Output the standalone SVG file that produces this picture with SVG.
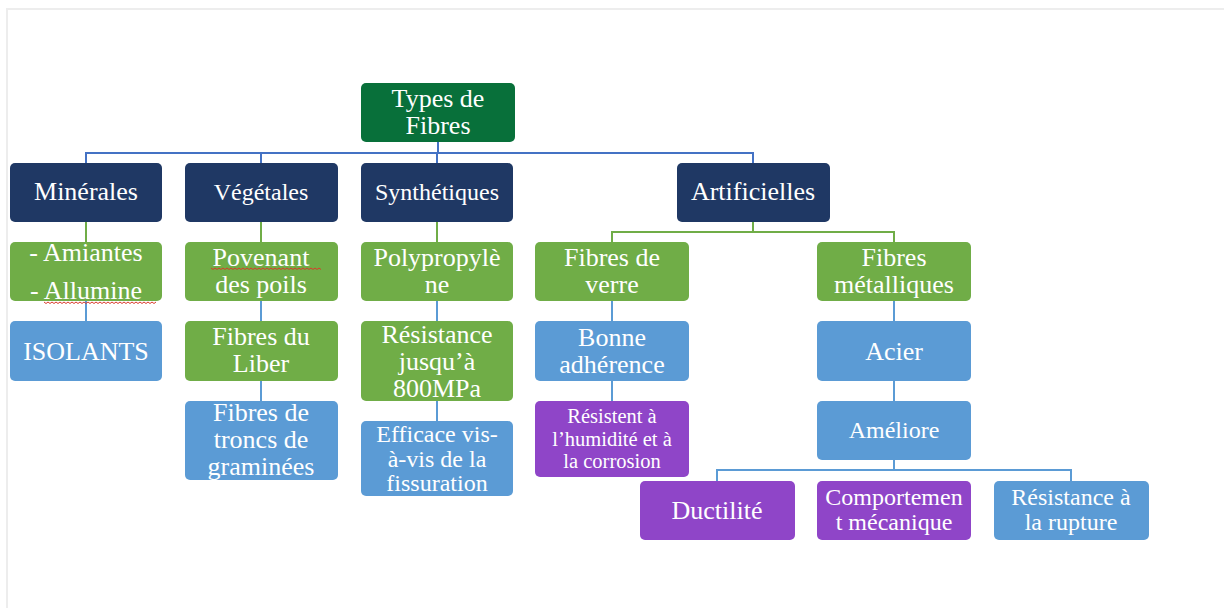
<svg xmlns="http://www.w3.org/2000/svg" width="1224" height="608" viewBox="0 0 1224 608">
<style>
.navy{fill:#1F3864}
.grn{fill:#70AD47}
.blu{fill:#5B9BD5}
.pur{fill:#8F45C8}
.root{fill:#08703A}
text{font-family:"Liberation Serif","Times New Roman",serif;fill:#FFFFFF;text-anchor:middle}
.t26{font-size:26px}
.t24{font-size:24px}
.t21{font-size:20.5px}
.c1{stroke:#4472C4;stroke-width:2;fill:none}
.c2{stroke:#70AD47;stroke-width:2;fill:none}
.c3{stroke:#5B9BD5;stroke-width:2;fill:none}
.sq{stroke:#D93A2B;stroke-width:1;fill:none}
</style>
<rect x="0" y="0" width="1224" height="608" fill="#FFFFFF"/>
<rect x="7" y="9" width="1230" height="620" fill="#FFFFFF" stroke="#EDEDED" stroke-width="2"/>

<g id="connectors">
<path class="c1" d="M438 142V153M86 163V153H753V163M261 153V163M437 153V163"/>
<path class="c2" d="M86 222V242M261 222V242M437 222V242M753 222V232M612 242V232H894V242"/>
<path class="c3" d="M86 301V321M261 301V321M261 381V401M437 301V321M437 401V421M612 301V321M612 381V401M894 301V321M894 381V401M894 460V470M717 481V470H1071V481"/>
</g>

<g id="root"><rect class="root" x="361" y="83" width="154" height="59" rx="5"/><text class="t26" x="438" y="107">Types de</text><text class="t26" x="438" y="134">Fibres</text></g>

<g id="minerales"><rect class="navy" x="10" y="163" width="152" height="59" rx="5"/><text class="t26" x="86" y="200">Minérales</text></g>
<g id="vegetales"><rect class="navy" x="185" y="163" width="153" height="59" rx="5"/><text class="t24" x="261" y="200">Végétales</text></g>
<g id="synthetiques"><rect class="navy" x="361" y="163" width="152" height="59" rx="5"/><text class="t24" x="437" y="200">Synthétiques</text></g>
<g id="artificielles"><rect class="navy" x="677" y="163" width="153" height="59" rx="5"/><text class="t26" x="753" y="200">Artificielles</text></g>

<g id="amiantes"><rect class="grn" x="10" y="242" width="152" height="59" rx="5"/><text class="t26" x="86" y="261">- Amiantes</text><text class="t26" x="86" y="299">- Allumine</text><path class="sq" d="M44 302l2 1.5 2-1.5 2 1.5 2-1.5 2 1.5 2-1.5 2 1.5 2-1.5 2 1.5 2-1.5 2 1.5 2-1.5 2 1.5 2-1.5 2 1.5 2-1.5 2 1.5 2-1.5 2 1.5 2-1.5 2 1.5 2-1.5 2 1.5 2-1.5 2 1.5 2-1.5 2 1.5 2-1.5 2 1.5 2-1.5 2 1.5 2-1.5 2 1.5 2-1.5 2 1.5 2-1.5 2 1.5 2-1.5 2 1.5 2-1.5 2 1.5 2-1.5 2 1.5 2-1.5 2 1.5 2-1.5 2 1.5 2-1.5 2 1.5 2-1.5 2 1.5 2-1.5 2 1.5 2-1.5 2 1.5 2-1.5"/></g>
<g id="povenant"><rect class="grn" x="185" y="242" width="153" height="59" rx="5"/><text class="t26" x="261" y="266">Povenant</text><text class="t26" x="261" y="293">des poils</text><path class="sq" d="M211 268l2 1.5 2-1.5 2 1.5 2-1.5 2 1.5 2-1.5 2 1.5 2-1.5 2 1.5 2-1.5 2 1.5 2-1.5 2 1.5 2-1.5 2 1.5 2-1.5 2 1.5 2-1.5 2 1.5 2-1.5 2 1.5 2-1.5 2 1.5 2-1.5 2 1.5 2-1.5 2 1.5 2-1.5 2 1.5 2-1.5 2 1.5 2-1.5 2 1.5 2-1.5 2 1.5 2-1.5 2 1.5 2-1.5 2 1.5 2-1.5 2 1.5 2-1.5 2 1.5 2-1.5 2 1.5 2-1.5 2 1.5 2-1.5 2 1.5 2-1.5 2 1.5 2-1.5 2 1.5 2-1.5 2 1.5"/></g>
<g id="polypropylene"><rect class="grn" x="361" y="242" width="152" height="59" rx="5"/><text class="t26" x="437" y="266">Polypropylè</text><text class="t26" x="437" y="293">ne</text></g>
<g id="fibres-verre"><rect class="grn" x="535" y="242" width="154" height="59" rx="5"/><text class="t26" x="612" y="266">Fibres de</text><text class="t26" x="612" y="293">verre</text></g>
<g id="fibres-metalliques"><rect class="grn" x="817" y="242" width="154" height="59" rx="5"/><text class="t26" x="894" y="266">Fibres</text><text class="t26" x="894" y="293">métalliques</text></g>

<g id="isolants"><rect class="blu" x="10" y="321" width="152" height="60" rx="5"/><text class="t26" x="86" y="360">ISOLANTS</text></g>
<g id="liber"><rect class="grn" x="185" y="321" width="153" height="60" rx="5"/><text class="t26" x="261" y="345">Fibres du</text><text class="t26" x="261" y="372">Liber</text></g>
<g id="resistance-800"><rect class="grn" x="361" y="321" width="152" height="80" rx="5"/><text class="t26" x="437" y="343">Résistance</text><text class="t26" x="437" y="370">jusqu’à</text><text class="t26" x="437" y="397">800MPa</text></g>
<g id="bonne-adherence"><rect class="blu" x="535" y="321" width="154" height="60" rx="5"/><text class="t26" x="612" y="346">Bonne</text><text class="t26" x="612" y="373">adhérence</text></g>
<g id="acier"><rect class="blu" x="817" y="321" width="154" height="60" rx="5"/><text class="t26" x="894" y="360">Acier</text></g>

<g id="troncs"><rect class="blu" x="185" y="401" width="153" height="79" rx="5"/><text class="t26" x="261" y="421">Fibres de</text><text class="t26" x="261" y="448">troncs de</text><text class="t26" x="261" y="475">graminées</text></g>
<g id="efficace"><rect class="blu" x="361" y="421" width="152" height="75" rx="5"/><text class="t24" x="437" y="442">Efficace vis-</text><text class="t24" x="437" y="467">à-vis de la</text><text class="t24" x="437" y="491">fissuration</text></g>
<g id="resistent"><rect class="pur" x="535" y="401" width="154" height="76" rx="5"/><text class="t21" x="612" y="423">Résistent à</text><text class="t21" x="612" y="445.5">l’humidité et à</text><text class="t21" x="612" y="468">la corrosion</text></g>
<g id="ameliore"><rect class="blu" x="817" y="401" width="154" height="59" rx="5"/><text class="t24" x="894" y="438">Améliore</text></g>

<g id="ductilite"><rect class="pur" x="640" y="481" width="155" height="59" rx="5"/><text class="t26" x="717" y="519">Ductilité</text></g>
<g id="comportement"><rect class="pur" x="817" y="481" width="154" height="59" rx="5"/><text class="t24" x="894" y="505">Comportemen</text><text class="t24" x="894" y="530">t mécanique</text></g>
<g id="rupture"><rect class="blu" x="994" y="481" width="155" height="59" rx="5"/><text class="t24" x="1071" y="505">Résistance à</text><text class="t24" x="1071" y="530">la rupture</text></g>
</svg>
